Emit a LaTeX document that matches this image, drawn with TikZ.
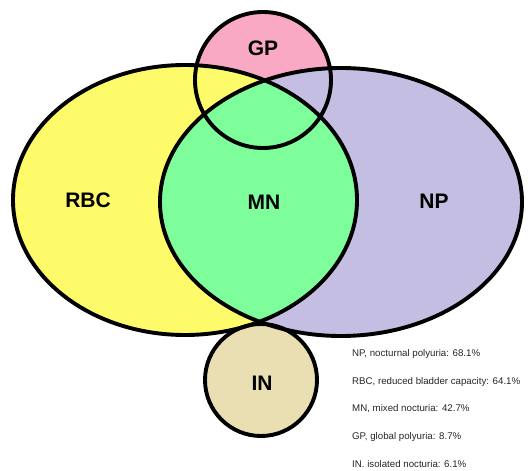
\documentclass[tikz,border=0pt]{standalone}
\usepackage{fontspec}
\setmainfont{Liberation Sans}
\definecolor{cyel}{HTML}{FEFB6A}
\definecolor{cpur}{HTML}{C5BEE3}
\definecolor{cgrn}{HTML}{7DFE9A}
\definecolor{cpnk}{HTML}{F9A9C4}
\definecolor{ctan}{HTML}{EADFB2}
\begin{document}
\begin{tikzpicture}[x=1pt,y=-1pt,
  outl/.style={draw=black,line width=3.9pt},
  lab/.style={font=\bfseries\fontsize{21}{25}\selectfont,inner sep=0},
  leg/.style={anchor=west,font=\fontsize{9.7}{11}\selectfont,text=black!85,inner sep=0}]
\useasboundingbox (0,0) rectangle (528,471);
% fills
\fill[cpnk] (263,80) circle[radius=68pt];
\fill[cyel] (185,200) ellipse[x radius=172pt,y radius=135pt];
\fill[cpur] (341,202) ellipse[x radius=181pt,y radius=134pt];
\begin{scope}
  \clip (185,200) ellipse[x radius=172pt,y radius=135pt];
  \fill[cgrn] (341,202) ellipse[x radius=181pt,y radius=134pt];
\end{scope}
\fill[ctan] (261,380) circle[radius=56pt];
% outlines
\draw[outl] (185,200) ellipse[x radius=172pt,y radius=135pt];
\draw[outl] (341,202) ellipse[x radius=181pt,y radius=134pt];
\draw[outl] (263,80) circle[radius=68pt];
\draw[outl] (261,380) circle[radius=56pt];
% labels
\node[lab] (rbc) at (88,200) {RBC};
\node[lab] (mn) at (264,202) {MN};
\node[lab] (np) at (434,201) {NP};
\node[lab] (gp) at (263,48) {GP};
\node[lab] (in) at (262,383) {IN};
% legend
\node[leg] (l1) at (352,354) {NP, nocturnal polyuria: 68.1\%};
\node[leg] (l2) at (352,382) {RBC, reduced bladder capacity: 64.1\%};
\node[leg] (l3) at (352,409) {MN, mixed nocturia: 42.7\%};
\node[leg] (l4) at (352,437) {GP, global polyuria: 8.7\%};
\node[leg] (l5) at (352,464) {IN. isolated nocturia: 6.1\%};
\end{tikzpicture}
\end{document}
